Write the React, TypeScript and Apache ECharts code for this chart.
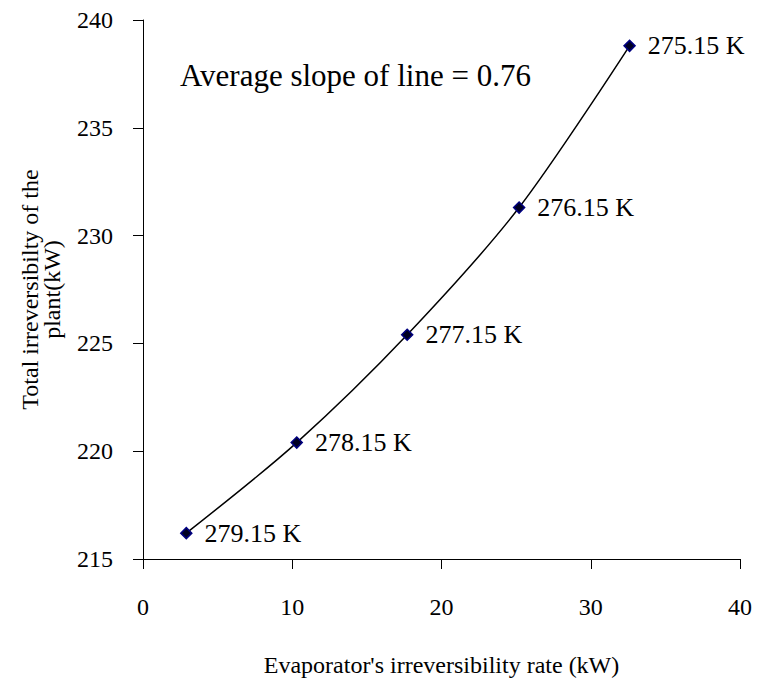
import React, { useEffect, useRef } from "react";
import * as echarts from "echarts";

const evaporatorRate = [2.9, 10.3, 17.7, 25.2, 32.6];
const totalIrreversibility = [216.2, 220.4, 225.4, 231.3, 238.8];
const temperatureLabels = ["279.15 K", "278.15 K", "277.15 K", "276.15 K", "275.15 K"];
const xTitle = "Evaporator's irreversibility rate (kW)";
const yTitle = "Total irreversibilty of the\nplant(kW)";
const noteText = "Average slope of line = 0.76";

const FONT = "'Liberation Serif', 'Times New Roman', serif";

export default function App() {
  const ref = useRef<HTMLDivElement>(null);
  useEffect(() => {
    if (!ref.current) return;
    const chart = echarts.init(ref.current, undefined, { renderer: "svg" });
    const data = evaporatorRate.map((x, i) => [x, totalIrreversibility[i]]);
    chart.setOption({
      animation: false,
      backgroundColor: "#ffffff",
      grid: { left: 135, right: 16, top: 12, bottom: 122, containLabel: false },
      xAxis: {
        type: "value",
        min: 0,
        max: 40,
        interval: 10,
        name: xTitle,
        nameLocation: "middle",
        nameGap: 94,
        nameTextStyle: { fontFamily: FONT, fontSize: 24, color: "#000" },
        axisLine: { show: true, lineStyle: { color: "#000", width: 1 } },
        axisTick: { show: true, length: 10, lineStyle: { color: "#000" } },
        axisLabel: { margin: 36, fontFamily: FONT, fontSize: 24, color: "#000" },
        splitLine: { show: false },
      },
      yAxis: {
        type: "value",
        min: 215,
        max: 240,
        interval: 5,
        name: yTitle,
        nameLocation: "middle",
        nameRotate: 90,
        nameGap: 80,
        nameTextStyle: { fontFamily: FONT, fontSize: 24, color: "#000", lineHeight: 22 },
        axisLine: { show: true, lineStyle: { color: "#000", width: 1 } },
        axisTick: { show: true, length: 10, lineStyle: { color: "#000" } },
        axisLabel: { margin: 30, fontFamily: FONT, fontSize: 24, color: "#000" },
        splitLine: { show: false },
      },
      graphic: [
        {
          type: "text",
          left: 172,
          top: 52,
          style: { text: noteText, fontFamily: FONT, fontSize: 31, fill: "#000" },
        },
      ],
      series: [
        {
          type: "line",
          data,
          smooth: 0.3,
          symbol: "diamond",
          symbolSize: 11,
          lineStyle: { color: "#000", width: 1.5 },
          itemStyle: { color: "#000022", borderColor: "#000080", borderWidth: 1.5 },
          label: {
            show: true,
            position: "right",
            distance: 12,
            fontFamily: FONT,
            fontSize: 26,
            color: "#000",
            formatter: (p: any) => temperatureLabels[p.dataIndex],
          },
        },
      ],
    });
    return () => chart.dispose();
  }, []);
  return <div ref={ref} style={{ width: 748, height: 674 }} />;
}
